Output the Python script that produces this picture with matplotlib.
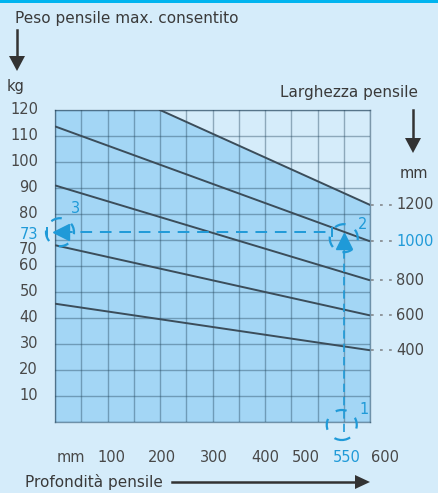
import matplotlib
matplotlib.use("Agg")
import matplotlib.pyplot as plt
import numpy as np
from matplotlib.patches import Circle, Polygon, Rectangle
from matplotlib.transforms import ScaledTranslation

# ---------------- data ----------------
depth_mm = [0, 600]
weight_400 = [45.5, 27.6]
weight_600 = [68.0, 41.0]
weight_800 = [91.0, 54.5]
weight_1000 = [113.7, 69.5]
depth_1200 = [200, 600]
weight_1200 = [120.0, 83.5]
width_labels = ["400", "600", "800", "1000", "1200"]

y_ticks = [120, 110, 100, 90, 80, 70, 60, 50, 40, 30, 20, 10]
x_tick_vals = [100, 200, 300, 400, 500, 550, 600]
x_tick_labels = ["100", "200", "300", "400", "500", "550", "600"]

example_depth = 550
example_weight = 73

# ---------------- style ----------------
BG = "#d5ecfa"
FILL = "#a3d6f5"
TOP = "#00b4ef"
LINE = "#3b4d5a"
GRID = "#22445c"
TXT = "#3a3a3a"
TICK = "#484848"
BLUE = "#1f9ad8"
plt.rcParams["font.family"] = ["DejaVu Sans"]
FS = 10.5
FT = 11

W, H = 438, 493
fig = plt.figure(figsize=(W / 100, H / 100), dpi=100, facecolor=BG)

# overlay in pixel coords for decorations
ov = fig.add_axes([0, 0, 1, 1], zorder=0)
ov.set_xlim(0, W)
ov.set_ylim(H, 0)
ov.axis("off")
ov.add_patch(Rectangle((0, 0), W, 3, color=TOP, lw=0))

L, R, T, B = 55, 370, 110, 422
ax = fig.add_axes([L / W, (H - B) / H, (R - L) / W, (B - T) / H], zorder=2)
ax.set_facecolor(BG)
ax.set_xlim(0, 600)
ax.set_ylim(0, 120)

# filled region under the 1200 line
fx = [0] + depth_1200
fy = [weight_1200[0]] + weight_1200
ax.fill_between(fx, 0, fy, color=FILL, lw=0, zorder=1)

# grid
ax.set_xticks(np.arange(0, 601, 50))
ax.set_yticks(np.arange(0, 121, 10))
ax.grid(True, color=GRID, alpha=0.4, lw=1.0, zorder=2)
ax.tick_params(length=0, labelbottom=False, labelleft=False)
for s in ax.spines.values():
    s.set_color(GRID)
    s.set_alpha(0.5)
    s.set_linewidth(1.0)

# width lines
series = [weight_400, weight_600, weight_800, weight_1000]
for w in series:
    ax.plot(depth_mm, w, color=LINE, lw=1.4, zorder=3, solid_capstyle="butt")
ax.plot(depth_1200, weight_1200, color=LINE, lw=1.4, zorder=3)

# right labels with dotted leaders
ends = [weight_400[-1], weight_600[-1], weight_800[-1], weight_1000[-1], weight_1200[-1]]
for lab, yv in zip(width_labels, ends):
    ax.plot([602, 645], [yv, yv], color="#8a8f94", lw=1.3, ls=(0, (1.5, 3.5)),
            clip_on=False, zorder=3)
    c = BLUE if lab == "1000" else TICK
    ax.text(650, yv, lab, color=c, fontsize=FS, ha="left", va="center", clip_on=False)

# left y labels
y_shift_px = {70: -10}
for v in y_ticks:
    off = y_shift_px.get(v, 0) * 0.72
    ax.annotate(str(v), (0, v), xytext=(-17 * 0.72, off), textcoords="offset points",
                ha="right", va="center", fontsize=FS, color=TICK, annotation_clip=False)
ax.annotate(str(example_weight), (0, example_weight), xytext=(-17 * 0.72, -2 * 0.72),
            textcoords="offset points", ha="right", va="center", fontsize=FS,
            color=BLUE, annotation_clip=False)

# bottom x labels
x_shift_px = [4, 2, 1, 0, -12, 3, 15]
for v, lab, dx in zip(x_tick_vals, x_tick_labels, x_shift_px):
    c = BLUE if v == example_depth else TICK
    ax.annotate(lab, (v, 0), xytext=(dx * 0.72, -36 * 0.72), textcoords="offset points",
                ha="center", va="center", fontsize=FS, color=c, annotation_clip=False)
ax.annotate("mm", (0, 0), xytext=(16 * 0.72, -36 * 0.72), textcoords="offset points",
            ha="center", va="center", fontsize=FS, color=TICK, annotation_clip=False)

# blue example path
ax.plot([example_depth, example_depth], [-4, 69], color=BLUE, lw=1.2,
        ls=(0, (5, 3)), clip_on=False, zorder=4)
ax.plot([12, 528], [example_weight, example_weight], color=BLUE, lw=1.4,
        ls=(0, (6, 4)), clip_on=False, zorder=4)
ax.plot([example_depth], [69.5], marker="^", ms=12, color=BLUE, mec=BLUE, zorder=5)
ax.plot([12], [example_weight], marker="<", ms=12, color=BLUE, mec=BLUE, zorder=5,
        clip_on=False)
ax.plot([528], [example_weight], marker="|", ms=7, mew=1.4, color=BLUE, zorder=5)
ax.plot([0], [example_weight], marker="|", ms=7, mew=1.4, color=BLUE, zorder=5,
        clip_on=False, transform=ax.transData + ScaledTranslation(-8 / 100, 0, fig.dpi_scale_trans))

def dashed_circle(x, y, r_px, dx_px=0, dy_px=0):
    t = fig.dpi_scale_trans + ScaledTranslation(x, y, ax.transData)
    c = Circle((dx_px / 100, dy_px / 100), r_px / 100, transform=t, fill=False,
               ec=BLUE, lw=1.6, ls=(1, (5, 5)), clip_on=False, zorder=5)
    ax.add_artist(c)

dashed_circle(example_depth, 0, 15, -2, -3)
dashed_circle(example_depth, example_weight, 14, 0, -6)
dashed_circle(0, example_weight, 14, 5, 0)

for lab, (xx, yy), (dx, dy) in [("1", (example_depth, 0), (20, 12)),
                                ("2", (example_depth, example_weight), (19, 8)),
                                ("3", (0, example_weight), (20, 24))]:
    ax.annotate(lab, (xx, yy), xytext=(dx * 0.72, dy * 0.72), textcoords="offset points",
                ha="center", va="center", fontsize=FS, color=BLUE, annotation_clip=False,
                zorder=6)

# titles & arrows (pixel overlay)
ov.text(15, 18, "Peso pensile max. consentito", fontsize=FT, color=TXT, va="center", ha="left")
ov.text(7, 87, "kg", fontsize=FS, color=TXT, va="center", ha="left")
ov.text(418, 92, "Larghezza pensile", fontsize=FT, color=TXT, va="center", ha="right")
ov.text(414, 173, "mm", fontsize=FS, color=TXT, va="center", ha="center")
ov.text(25, 482, "Profondità pensile", fontsize=FT, color=TXT, va="center", ha="left")

AR = "#333333"
# left down arrow
ov.plot([17, 17], [30, 58], color=AR, lw=1.8)
ov.add_patch(Polygon([[9, 56], [25, 56], [17, 71]], closed=True, color=AR, lw=0))
# right down arrow
ov.plot([413, 413], [110, 140], color=AR, lw=1.8)
ov.add_patch(Polygon([[405, 138], [421, 138], [413, 153]], closed=True, color=AR, lw=0))
# bottom right arrow
ov.plot([172, 357], [482, 482], color=AR, lw=1.8)
ov.add_patch(Polygon([[355, 475], [355, 489], [370, 482]], closed=True, color=AR, lw=0))

fig.savefig("out.png", dpi=100, facecolor=BG)
